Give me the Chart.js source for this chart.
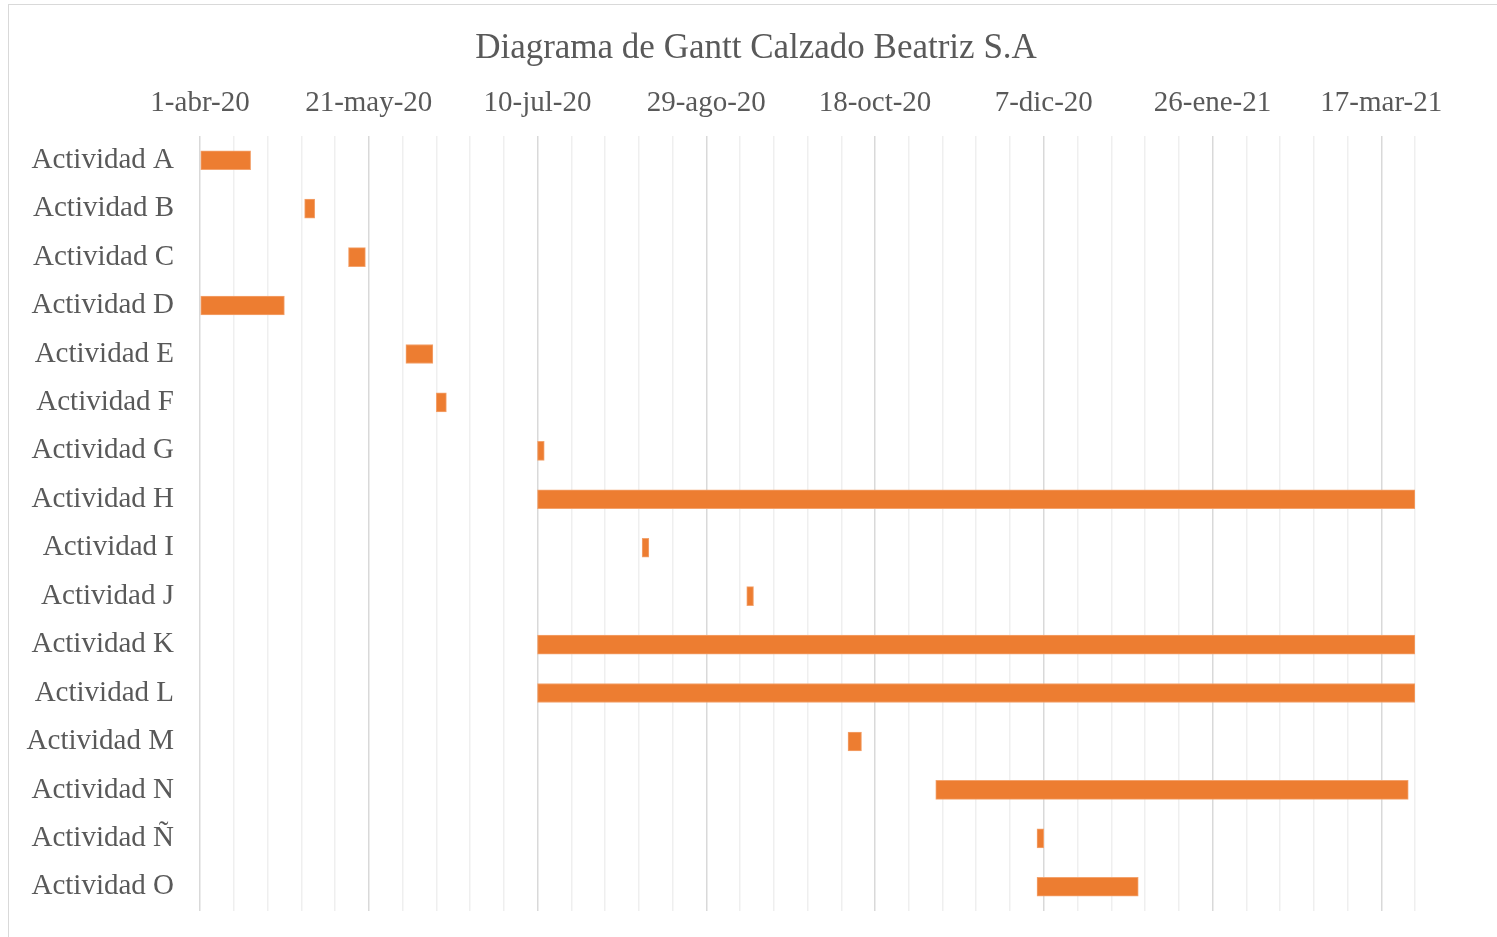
<!DOCTYPE html>
<html>
<head>
<meta charset="utf-8">
<script src="https://cdn.jsdelivr.net/npm/chart.js@4.4.1/dist/chart.umd.min.js"></script>
<style>
  html, body { margin: 0; padding: 0; background: #fff; overflow: hidden; }
  #frame { position: absolute; left: 8px; top: 4px; width: 1600px; height: 1000px; border: 1px solid #d9d9d9; box-sizing: border-box; }
  #wrap { position: absolute; left: 0; top: 0; width: 1512px; height: 937px; }
</style>
</head>
<body>
<div id="frame"></div>
<div id="wrap"><canvas id="c" width="1512" height="937"></canvas></div>
<script>
// Activities and their start / end, in days counted from 1-abr-20
const categories = ['Actividad A','Actividad B','Actividad C','Actividad D','Actividad E','Actividad F','Actividad G','Actividad H','Actividad I','Actividad J','Actividad K','Actividad L','Actividad M','Actividad N','Actividad Ñ','Actividad O'];
const startDays  = [0, 31, 44, 0, 61, 70, 100, 100, 131, 162, 100, 100, 192, 218, 248, 248];
const endDays    = [15, 34, 49, 25, 69, 73, 102, 360, 133, 164, 360, 360, 196, 358, 250, 278];
// Axis labels, every 50 days from 1-abr-20
const tickLabels = ['1-abr-20','21-may-20','10-jul-20','29-ago-20','18-oct-20','7-dic-20','26-ene-21','17-mar-21'];
const axisMin = 0, axisMax = 360, minorStep = 10, majorStep = 50;

const font = '"Liberation Serif", "Times New Roman", serif';
const ranges = categories.map((c, i) => [startDays[i], endDays[i]]);

new Chart(document.getElementById('c'), {
  type: 'bar',
  data: {
    labels: categories,
    datasets: [{
      data: ranges,
      backgroundColor: '#ED7D31',
      borderColor: '#F3A36E',
      borderWidth: 1,
      borderSkipped: false,
      barThickness: 19
    }]
  },
  options: {
    indexAxis: 'y',
    responsive: false,
    animation: false,
    layout: { padding: { top: 0, right: 0, bottom: 26, left: 0 } },
    plugins: {
      legend: { display: false },
      tooltip: { enabled: false },
      title: {
        display: true,
        text: 'Diagrama de Gantt Calzado Beatriz S.A',
        color: '#595959',
        font: { family: font, size: 35, weight: 'normal' },
        padding: { top: 28, bottom: 0 }
      }
    },
    scales: {
      x: {
        type: 'linear',
        position: 'top',
        min: axisMin, max: axisMax,
        border: { display: false },
        grid: {
          drawTicks: false,
          lineWidth: 1.5,
          color: ctx => (ctx.tick && ctx.tick.value % majorStep === 0) ? '#d9d9d9' : '#efefef'
        },
        ticks: {
          stepSize: minorStep,
          autoSkip: false,
          maxRotation: 0,
          padding: 15.6,
          color: '#595959',
          font: { family: font, size: 29 },
          callback: v => (v % majorStep === 0) ? (tickLabels[v / majorStep] || '') : ''
        }
      },
      y: {
        border: { display: false },
        grid: { display: false, drawTicks: false },
        afterFit: s => { s.width = 200; s.paddingTop = 0; s.paddingBottom = 0; },
        ticks: {
          padding: 26,
          color: '#595959',
          font: { family: font, size: 29 }
        }
      },
      yRight: {
        type: 'category',
        position: 'right',
        display: true,
        border: { display: false },
        grid: { display: false, drawTicks: false },
        ticks: { display: false },
        afterFit: s => { s.width = 97; s.paddingTop = 0; s.paddingBottom = 0; }
      }
    }
  }
});
</script>
</body>
</html>
